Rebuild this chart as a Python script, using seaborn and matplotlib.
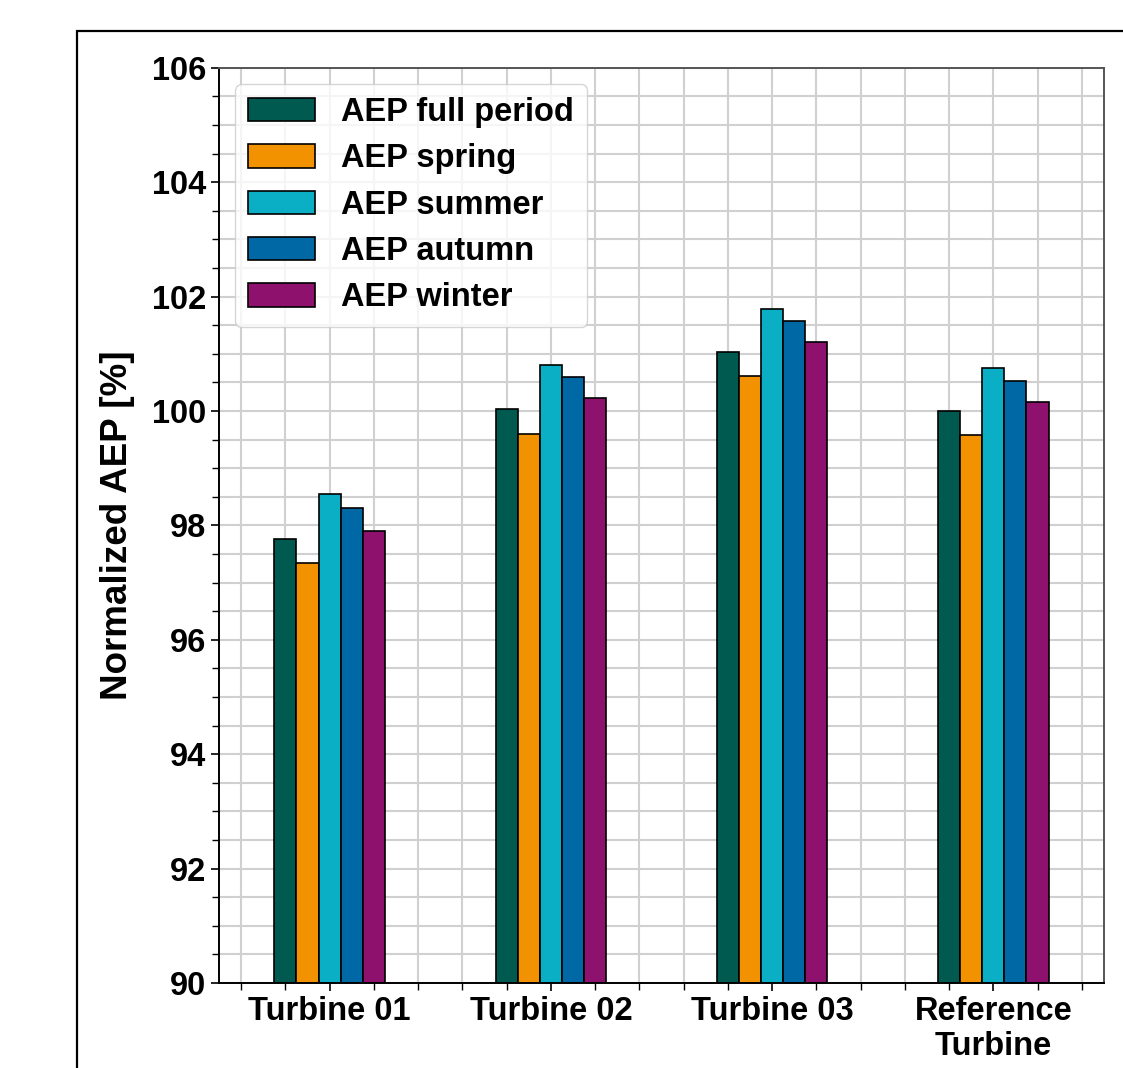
import matplotlib
matplotlib.use("Agg")
import matplotlib.pyplot as plt
from matplotlib.patches import Rectangle
from matplotlib.ticker import MultipleLocator
import numpy as np
import pandas as pd
import seaborn as sns

# Normalized annual energy production per turbine and season [%]
turbines = ["Turbine 01", "Turbine 02", "Turbine 03", "Reference\nTurbine"]
series = ["AEP full period", "AEP spring", "AEP summer", "AEP autumn", "AEP winter"]
aep_full = [97.76, 100.04, 101.03, 100.00]
aep_spring = [97.35, 99.60, 100.61, 99.58]
aep_summer = [98.54, 100.80, 101.78, 100.75]
aep_autumn = [98.31, 100.59, 101.58, 100.53]
aep_winter = [97.90, 100.22, 101.21, 100.15]
colors = ["#005a50", "#f39200", "#0aaec5", "#0068a5", "#8e116e"]

values = [aep_full, aep_spring, aep_summer, aep_autumn, aep_winter]
df = pd.DataFrame(
    [(t, s, v) for s, vals in zip(series, values) for t, v in zip(turbines, vals)],
    columns=["turbine", "period", "aep"],
)

sns.set_style("ticks")
plt.rcParams["font.family"] = ["Liberation Sans", "DejaVu Sans"]
plt.rcParams["font.weight"] = "bold"
plt.rcParams["text.color"] = "black"
plt.rcParams["axes.labelcolor"] = "black"
plt.rcParams["xtick.color"] = "black"
plt.rcParams["ytick.color"] = "black"

FS = 23.5

fig = plt.figure(figsize=(11.23, 10.68), dpi=100)
ax = fig.add_axes([0.195, 0.0796, 0.788, 0.857])

sns.barplot(
    data=df, x="turbine", y="aep", hue="period", order=turbines, hue_order=series,
    palette=colors, width=0.5, edgecolor="black", linewidth=1.2, saturation=1,
    ax=ax, legend=True,
)

ax.set_ylim(90, 106)
ax.set_xlim(-0.5, 3.5)
ax.yaxis.set_major_locator(MultipleLocator(2))
ax.yaxis.set_minor_locator(MultipleLocator(0.5))
ax.xaxis.set_minor_locator(MultipleLocator(0.2))
ax.grid(which="both", color="#d0d0d0", linewidth=1.5, zorder=0)
ax.set_axisbelow(True)

ax.tick_params(axis="both", which="major", labelsize=FS, length=6, width=1.2,
               direction="out", colors="black")
ax.tick_params(axis="both", which="minor", length=5, width=1.0, direction="out",
               colors="black")
for lab in ax.get_xticklabels() + ax.get_yticklabels():
    lab.set_fontweight("bold")
    lab.set_color("black")
    lab.set_linespacing(1.15)

ax.set_xlabel("")
ax.set_ylabel("Normalized AEP [%]", fontsize=26.5, fontweight="bold", labelpad=12,
              color="black")

for side in ["left", "bottom"]:
    ax.spines[side].set_color("black")
    ax.spines[side].set_linewidth(1.4)
for side in ["top", "right"]:
    ax.spines[side].set_visible(True)
    ax.spines[side].set_color("#555555")
    ax.spines[side].set_linewidth(1.4)

handles, labels = ax.get_legend_handles_labels()
leg = ax.legend(handles, labels, loc="upper left", prop={"weight": "bold", "size": FS},
                handlelength=2.05, handleheight=0.73, labelspacing=0.47, handletextpad=0.8,
                borderpad=0.4, framealpha=0.8, edgecolor="#cccccc", fancybox=True,
                bbox_to_anchor=(0.0, 1.0), borderaxespad=0.5)
for t in leg.get_texts():
    t.set_color("black")

# figure outline
fig.patches.append(Rectangle((76.5 / 1123, -0.2), 2.0, 1.2 - 30.7 / 1068,
                             transform=fig.transFigure, fill=False,
                             edgecolor="black", linewidth=1.6, zorder=10))

fig.savefig("out.png", dpi=100)
